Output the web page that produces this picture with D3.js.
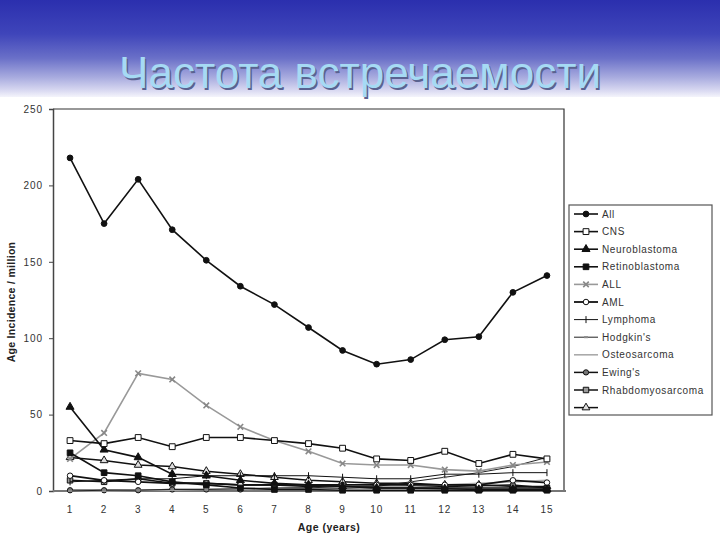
<!DOCTYPE html>
<html><head><meta charset="utf-8">
<script src="https://cdn.jsdelivr.net/npm/d3@7"></script>
<style>html,body{margin:0;padding:0;background:#fff;}svg{display:block;}</style>
</head><body>
<script>
// ---- data ----
const ages = [1,2,3,4,5,6,7,8,9,10,11,12,13,14,15];
const yTicks = [0,50,100,150,200,250];
const seriesNames = ["All","CNS","Neuroblastoma","Retinoblastoma","ALL","AML","Lymphoma","Hodgkin's","Osteosarcoma","Ewing's","Rhabdomyosarcoma",""];
const allVals      = [218,175,204,171,151,134,122,107,92,83,86,99,101,130,141];
const cnsVals      = [33,31,35,29,35,35,33,31,28,21,20,26,18,24,21];
const neuroVals    = [55,27,22,11,10,7,5,4,3,2,2,1.5,1,1,1];
const retinoVals   = [25,12,10,6,4,2,1,1,0.5,0.5,0.5,0.5,0.5,0.5,0.5];
const allLeukVals  = [21,38,77,73,56,42,33,26,18,17,17,14,13,17,19];
const amlVals      = [10,7,6,5,5,4,4,4,4,4,4,4,4,7,5.5];
const lymphVals    = [6,7,8,8,10,10,10,10,9,8,8,11,11,12,12];
const hodgkinVals  = [0,0.5,0.5,1,1,1.5,2,2,3,3,6,9,12,16,22];
const osteoVals    = [0,0,0.5,0.5,1,1,1.5,2,2.5,3,3,4,5,6,7];
const ewingVals    = [0.5,0.5,0.5,1,1,1,1.5,2,2,2.5,3,3,3.5,4,2];
const rhabdoVals   = [7,6,8,5,5,4,4,3,3,2,2,2,2,2,2];
const otherVals    = [22,20,17,16,13,11,9,7,6,5,5,4,4,3,3];
const seriesValues = [allVals,cnsVals,neuroVals,retinoVals,allLeukVals,amlVals,lymphVals,hodgkinVals,osteoVals,ewingVals,rhabdoVals,otherVals];

// ---- styles ----
const styles = [
  {line:"#111", w:1.6, sym:d3.symbolCircle, size:26, fill:"#111", stroke:"#111"},
  {line:"#111", w:1.6, sym:d3.symbolSquare, size:34, fill:"#fff", stroke:"#111"},
  {line:"#111", w:1.6, sym:d3.symbolTriangle, size:28, fill:"#111", stroke:"#111"},
  {line:"#111", w:1.6, sym:d3.symbolSquare, size:32, fill:"#111", stroke:"#111"},
  {line:"#999", w:1.6, sym:d3.symbolX, size:22, fill:"none", stroke:"#888", sw:1.6},
  {line:"#111", w:1.8, sym:d3.symbolCircle, size:24, fill:"#fff", stroke:"#111"},
  {line:"#111", w:1.0, path:"M0,-3.5V3.5", stroke:"#111"},
  {line:"#222", w:1.0, path:"M-2,0H2", stroke:"#888", sw:2},
  {line:"#aaa", w:1.6},
  {line:"#111", w:1.5, sym:d3.symbolCircle, size:22, fill:"#777", stroke:"#111"},
  {line:"#111", w:1.5, sym:d3.symbolSquare, size:30, fill:"#999", stroke:"#111"},
  {line:"#111", w:1.5, sym:d3.symbolTriangle, size:26, fill:"#ddd", stroke:"#111"}
];

const W = 720, H = 540;
const svg = d3.select("body").append("svg").attr("width",W).attr("height",H);

// header banner
const defs = svg.append("defs");
const g = defs.append("linearGradient").attr("id","hdr").attr("x1",0).attr("y1",0).attr("x2",0).attr("y2",1);
[[0,"#2b2fae"],[0.35,"#3f45ba"],[0.6,"#6a70c8"],[0.8,"#a9acdf"],[0.93,"#d8d8f1"],[1,"#f4f4fb"]]
  .forEach(([o,c])=>g.append("stop").attr("offset",o).attr("stop-color",c));
svg.append("rect").attr("x",0).attr("y",0).attr("width",W).attr("height",97).attr("fill","url(#hdr)");

const title = "Частота встречаемости";
svg.append("text").attr("x",361.5).attr("y",89.5).attr("text-anchor","middle")
  .attr("font-family","Liberation Sans, Arial, sans-serif").attr("font-size",45)
  .attr("fill","#5a6290").attr("textLength",482).attr("lengthAdjust","spacingAndGlyphs").text(title);
svg.append("text").attr("x",360).attr("y",88).attr("text-anchor","middle")
  .attr("font-family","Liberation Sans, Arial, sans-serif").attr("font-size",45)
  .attr("fill","#a6daf4").attr("textLength",482).attr("lengthAdjust","spacingAndGlyphs").text(title);

// ---- scales ----
const x = d3.scaleBand().domain(ages).range([53,564]);
const cx = a => x(a) + x.bandwidth()/2;
const y = d3.scaleLinear().domain([0,250]).range([491,109]);

const font = "Liberation Sans, Arial, sans-serif";

// plot frame (top and right)
svg.append("path").attr("d",`M53,${y(250)}H564V${y(0)}`).attr("fill","none").attr("stroke","#333").attr("stroke-width",1.2);

// y axis
const yAxis = svg.append("g").attr("transform","translate(53,0)")
  .call(d3.axisLeft(y).tickValues(yTicks).tickSize(4).tickPadding(6));
yAxis.select(".domain").attr("stroke","#444").attr("stroke-width",1.5);
yAxis.selectAll(".tick line").attr("stroke","#444");
yAxis.selectAll("text").attr("font-family",font).attr("font-size",10).attr("letter-spacing",0.9).attr("fill","#333");

// x axis
const xAxis = svg.append("g").attr("transform",`translate(0,${y(0)})`)
  .call(d3.axisBottom(x).tickSize(0).tickPadding(15));
xAxis.select(".domain").attr("stroke","#777").attr("stroke-width",2.2).attr("d","M53,0H566");
xAxis.selectAll("text").attr("font-family",font).attr("font-size",10).attr("letter-spacing",0.9).attr("fill","#333");

// axis titles
svg.append("text").attr("x",329).attr("y",531).attr("text-anchor","middle")
  .attr("font-family",font).attr("font-size",10.5).attr("letter-spacing",0.5).attr("font-weight","bold").attr("fill","#222").text("Age (years)");
svg.append("text").attr("transform","translate(15,302) rotate(-90)").attr("text-anchor","middle")
  .attr("font-family",font).attr("font-size",10.5).attr("letter-spacing",0.3).attr("font-weight","bold").attr("fill","#222").text("Age Incidence / million");

// ---- series ----
const line = d3.line().x((d,i)=>cx(ages[i])).y(d=>y(d));
function marker(sel, st){
  if (st.sym) {
    sel.attr("d", d3.symbol().type(st.sym).size(st.size)())
      .attr("fill", st.fill).attr("stroke", st.stroke).attr("stroke-width", st.sw || 1);
  } else if (st.path) {
    sel.attr("d", st.path).attr("fill","none").attr("stroke", st.stroke).attr("stroke-width", st.sw || 1);
  }
}
const order = [11,10,9,8,7,6,5,4,3,2,1,0];
order.forEach(k=>{
  const st = styles[k], vals = seriesValues[k];
  const gg = svg.append("g");
  gg.append("path").attr("d", line(vals)).attr("fill","none").attr("stroke", st.line).attr("stroke-width", st.w);
  if (st.sym || st.path) {
    gg.selectAll("path.m").data(vals).join("path").attr("class","m")
      .attr("transform",(d,i)=>`translate(${cx(ages[i])},${y(d)})`).call(marker, st);
  }
});

// ---- legend ----
svg.append("rect").attr("x",569).attr("y",205).attr("width",143).attr("height",210)
  .attr("fill","#fff").attr("stroke","#555").attr("stroke-width",1.2);
seriesNames.forEach((name,i)=>{
  const st = styles[i], ly = 214 + i*17.6;
  svg.append("line").attr("x1",574).attr("x2",598).attr("y1",ly).attr("y2",ly)
    .attr("stroke", st.line).attr("stroke-width", st.w);
  if (st.sym || st.path) svg.append("path").attr("transform",`translate(586,${ly})`).call(marker, st);
  svg.append("text").attr("x",602).attr("y",ly+3.5).attr("font-family",font).attr("font-size",10)
    .attr("letter-spacing",0.6).attr("fill","#333").text(name);
});
</script>
</body></html>
